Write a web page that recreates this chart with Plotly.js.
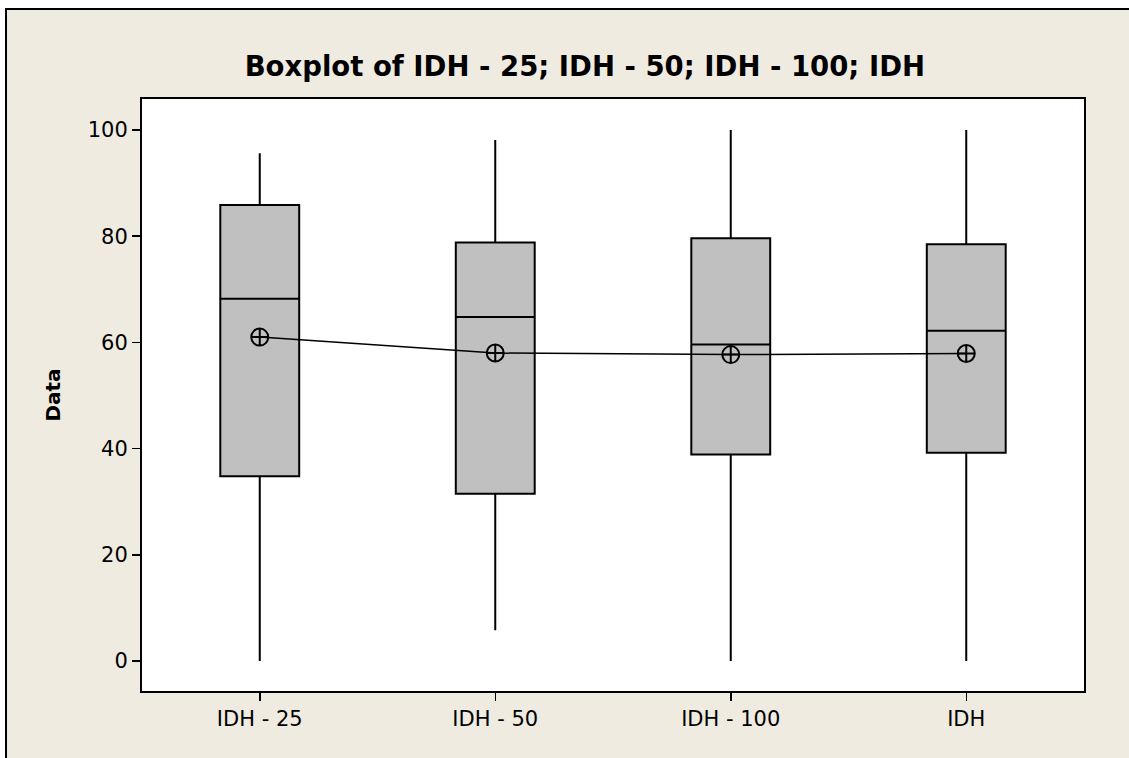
<!DOCTYPE html>
<html>
<head>
<meta charset="utf-8">
<script src="https://cdn.plot.ly/plotly-3.0.1.min.js"></script>
<style>
  html, body { margin: 0; padding: 0; background: #ffffff; width: 1129px; height: 758px; overflow: hidden; }
  #frame { position: absolute; left: 5px; top: 8px; width: 1124px; height: 750px;
           border-left: 2px solid #000; border-top: 2px solid #000; background: #EFEBE1; box-sizing: border-box; }
  #chart { position: absolute; left: 0; top: 0; width: 1122px; height: 748px; }
</style>
</head>
<body>
<div id="frame"><div id="chart"></div></div>
<script>
// Categories (x-axis tick labels)
const categories = ['IDH - 25', 'IDH - 50', 'IDH - 100', 'IDH'];
// Box statistics
const lowerWhisker = [0, 5.8, 0, 0];
const q1Values     = [34.8, 31.5, 38.9, 39.2];
const medianValues = [68.2, 64.8, 59.6, 62.2];
const q3Values     = [85.9, 78.8, 79.6, 78.5];
const upperWhisker = [95.6, 98.1, 100, 100];
// Means (circle-cross symbols connected by a line)
const meanValues   = [61.0, 58.0, 57.7, 57.9];
// Y tick values
const yTicks = [0, 20, 40, 60, 80, 100];

const font = 'DejaVu Sans, Verdana, sans-serif';

const boxTrace = {
  type: 'box',
  x: categories,
  q1: q1Values,
  median: medianValues,
  q3: q3Values,
  lowerfence: lowerWhisker,
  upperfence: upperWhisker,
  width: 0.335,
  whiskerwidth: 0,
  fillcolor: '#C0C0C0',
  line: { color: '#000000', width: 2 },
  boxpoints: false,
  hoverinfo: 'skip',
  showlegend: false
};

const meanTrace = {
  type: 'scatter',
  mode: 'lines+markers',
  x: categories,
  y: meanValues,
  line: { color: '#000000', width: 1.5 },
  marker: { symbol: 'circle-cross-open', size: 17, color: '#000000', line: { width: 2, color: '#000000' } },
  hoverinfo: 'skip',
  showlegend: false
};

const layout = {
  width: 1122,
  height: 748,
  paper_bgcolor: '#EFEBE1',
  plot_bgcolor: '#FFFFFF',
  margin: { l: 135, r: 45, t: 89, b: 67 },
  font: { family: font, color: '#000000', size: 21 },
  title: {
    text: '<b>Boxplot of IDH - 25; IDH - 50; IDH - 100; IDH</b>',
    font: { family: font, size: 27.5, color: '#000000' },
    x: 0.515, xref: 'container', xanchor: 'center',
    y: 0.924, yref: 'container', yanchor: 'middle'
  },
  xaxis: {
    type: 'category',
    range: [-0.5, 3.5],
    showline: true, linecolor: '#000000', linewidth: 2, mirror: true,
    ticks: 'outside', ticklen: 8, tickwidth: 1.5, tickcolor: '#000000',
    showgrid: false, zeroline: false,
    tickfont: { family: font, size: 21, color: '#000000' }
  },
  yaxis: {
    range: [-5.65, 105.84],
    tickvals: yTicks,
    showline: true, linecolor: '#000000', linewidth: 2, mirror: true,
    ticks: 'outside', ticklen: 8, tickwidth: 1.5, tickcolor: '#000000',
    showgrid: false, zeroline: false,
    tickfont: { family: font, size: 21, color: '#000000' },
    title: { text: '<b>Data</b>', font: { family: font, size: 20, color: '#000000' }, standoff: 22 }
  },
  showlegend: false
};

Plotly.newPlot('chart', [boxTrace, meanTrace], layout, { displayModeBar: false, staticPlot: true });
</script>
</body>
</html>
